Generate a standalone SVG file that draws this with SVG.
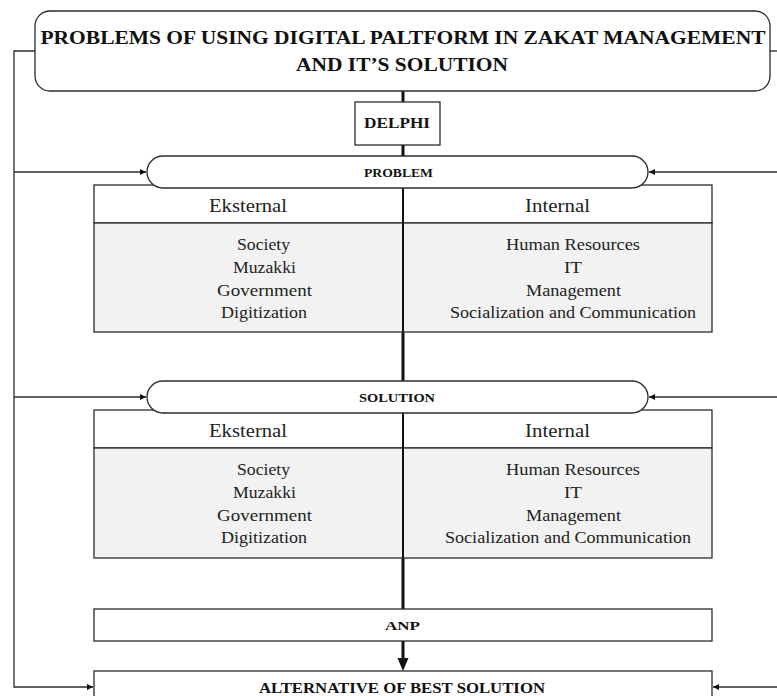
<svg xmlns="http://www.w3.org/2000/svg" width="777" height="696" viewBox="0 0 777 696">
<style>
.box{fill:#fff;stroke:#2b2b2b;stroke-width:1.3}
.body{fill:#f2f2f2;stroke:#2b2b2b;stroke-width:1.3}
.b{font-family:"Liberation Serif","Times New Roman",serif;font-weight:bold;fill:#111;text-anchor:middle}
.r{font-family:"Liberation Serif","Times New Roman",serif;fill:#222;text-anchor:middle}
.thin{fill:none;stroke:#2b2b2b;stroke-width:1.3}
.thick{fill:none;stroke:#111;stroke-width:3}
</style>
<defs>
<marker id="ah" viewBox="0 0 10 10" refX="10" refY="5" markerWidth="6" markerHeight="6" orient="auto" markerUnits="userSpaceOnUse">
<path d="M0,0 L10,5 L0,10 z" fill="#111"/>
</marker>
<marker id="big" viewBox="0 0 10 10" refX="10" refY="5" markerWidth="12" markerHeight="12" orient="auto" markerUnits="userSpaceOnUse">
<path d="M0,0 L10,5 L0,10 z" fill="#111"/>
</marker>
</defs>
<g id="connectors">
<path class="thin" d="M35,51 H14 V687 H93" marker-end="url(#ah)"/>
<path class="thin" d="M14,172 H146" marker-end="url(#ah)"/>
<path class="thin" d="M14,397 H146" marker-end="url(#ah)"/>
<path class="thin" d="M770,51 H777"/>
<path class="thin" d="M777,172 H649" marker-end="url(#ah)"/>
<path class="thin" d="M777,397 H649" marker-end="url(#ah)"/>
<path class="thin" d="M777,687 H713" marker-end="url(#ah)"/>
<path class="thick" d="M403,91 V102"/>
<path class="thick" d="M403,145 V157"/>
<path class="thick" d="M403,332 V382"/>
<path class="thick" d="M403,558 V609"/>
<path class="thick" d="M403,641 V660"/>
<path d="M397.5,658 L408.5,658 L403,671 z" fill="#111"/>
</g>
<g id="title">
<rect class="box" x="35" y="11" width="735" height="80" rx="15"/>
<text class="b" x="403" y="44" font-size="19" textLength="725" lengthAdjust="spacingAndGlyphs">PROBLEMS OF USING DIGITAL PALTFORM IN ZAKAT MANAGEMENT</text>
<text class="b" x="402" y="71" font-size="19" textLength="212" lengthAdjust="spacingAndGlyphs">AND IT’S SOLUTION</text>
</g>
<g id="delphi">
<rect class="box" x="355" y="102" width="85" height="43"/>
<text class="b" x="397" y="128" font-size="14" textLength="66" lengthAdjust="spacingAndGlyphs">DELPHI</text>
</g>
<g id="problem-table">
<rect class="box" x="94" y="185" width="618" height="38"/>
<rect class="body" x="94" y="223" width="618" height="109"/>
<line x1="403" y1="185" x2="403" y2="332" stroke="#111" stroke-width="2"/>
<text class="r" x="248" y="212" font-size="18" textLength="78" lengthAdjust="spacingAndGlyphs">Eksternal</text>
<text class="r" x="557.5" y="212" font-size="18" textLength="65" lengthAdjust="spacingAndGlyphs">Internal</text>
<text class="r" x="263.5" y="250" font-size="16" textLength="53" lengthAdjust="spacingAndGlyphs">Society</text>
<text class="r" x="264.5" y="273" font-size="16" textLength="63" lengthAdjust="spacingAndGlyphs">Muzakki</text>
<text class="r" x="264.5" y="296" font-size="16" textLength="95" lengthAdjust="spacingAndGlyphs">Government</text>
<text class="r" x="264" y="318" font-size="16" textLength="86" lengthAdjust="spacingAndGlyphs">Digitization</text>
<text class="r" x="573" y="250" font-size="16" textLength="134" lengthAdjust="spacingAndGlyphs">Human Resources</text>
<text class="r" x="573" y="273" font-size="16" textLength="18" lengthAdjust="spacingAndGlyphs">IT</text>
<text class="r" x="573.5" y="296" font-size="16" textLength="95" lengthAdjust="spacingAndGlyphs">Management</text>
<text class="r" x="573" y="318" font-size="16" textLength="246" lengthAdjust="spacingAndGlyphs">Socialization and Communication</text>
</g>
<g id="problem">
<rect class="box" x="147" y="156" width="501" height="32" rx="16"/>
<text class="b" x="398.5" y="177" font-size="12" textLength="69" lengthAdjust="spacingAndGlyphs">PROBLEM</text>
</g>
<g id="solution-table">
<rect class="box" x="94" y="410" width="618" height="38"/>
<rect class="body" x="94" y="448" width="618" height="110"/>
<line x1="403" y1="410" x2="403" y2="558" stroke="#111" stroke-width="2"/>
<text class="r" x="248" y="437" font-size="18" textLength="78" lengthAdjust="spacingAndGlyphs">Eksternal</text>
<text class="r" x="557.5" y="437" font-size="18" textLength="65" lengthAdjust="spacingAndGlyphs">Internal</text>
<text class="r" x="263.5" y="475" font-size="16" textLength="53" lengthAdjust="spacingAndGlyphs">Society</text>
<text class="r" x="264.5" y="498" font-size="16" textLength="63" lengthAdjust="spacingAndGlyphs">Muzakki</text>
<text class="r" x="264.5" y="521" font-size="16" textLength="95" lengthAdjust="spacingAndGlyphs">Government</text>
<text class="r" x="264" y="543" font-size="16" textLength="86" lengthAdjust="spacingAndGlyphs">Digitization</text>
<text class="r" x="573" y="475" font-size="16" textLength="134" lengthAdjust="spacingAndGlyphs">Human Resources</text>
<text class="r" x="573" y="498" font-size="16" textLength="18" lengthAdjust="spacingAndGlyphs">IT</text>
<text class="r" x="573.5" y="521" font-size="16" textLength="95" lengthAdjust="spacingAndGlyphs">Management</text>
<text class="r" x="568" y="543" font-size="16" textLength="246" lengthAdjust="spacingAndGlyphs">Socialization and Communication</text>
</g>
<g id="solution">
<rect class="box" x="147" y="381" width="501" height="32" rx="16"/>
<text class="b" x="397" y="402" font-size="12" textLength="76" lengthAdjust="spacingAndGlyphs">SOLUTION</text>
</g>
<g id="anp">
<rect class="box" x="94" y="609" width="618" height="32"/>
<text class="b" x="402.5" y="630" font-size="13" textLength="35" lengthAdjust="spacingAndGlyphs">ANP</text>
</g>
<g id="alternative">
<rect class="box" x="94" y="671" width="618" height="40"/>
<text class="b" x="402" y="693" font-size="15" textLength="286" lengthAdjust="spacingAndGlyphs">ALTERNATIVE OF BEST SOLUTION</text>
</g>
</svg>
